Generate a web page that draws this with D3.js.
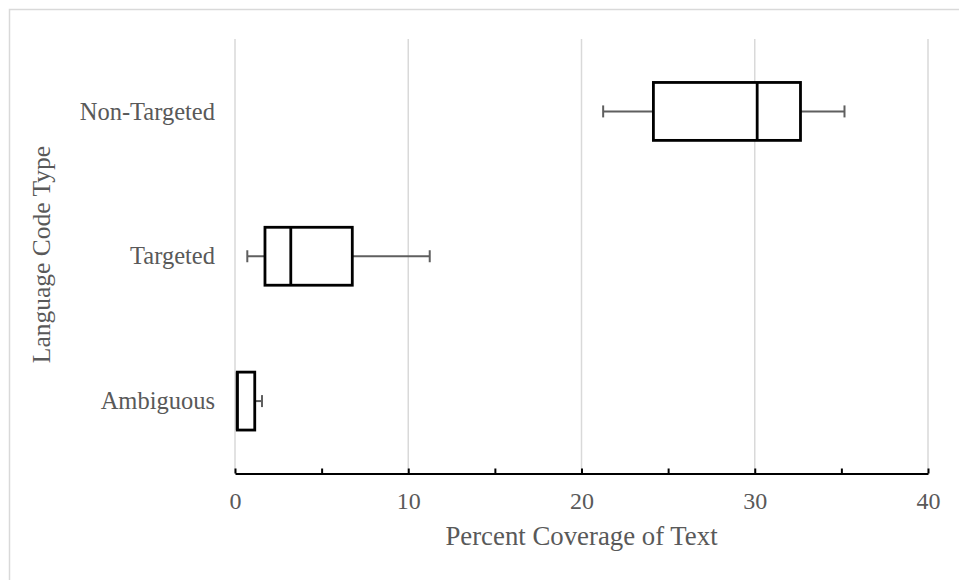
<!DOCTYPE html>
<html>
<head>
<meta charset="utf-8">
<script src="https://cdn.jsdelivr.net/npm/d3@7"></script>
<style>
  body { margin: 0; background: #fff; }
  text { font-family: "Liberation Serif", "Times New Roman", serif; fill: #595959; }
</style>
</head>
<body>
<script>
// box plot values
var categories = ["Non-Targeted", "Targeted", "Ambiguous"];
var mins    = [21.25, 0.71, 0.13];
var q1s     = [24.15, 1.73, 0.13];
var medians = [30.14, 3.22, 0.13];
var q3s     = [32.64, 6.77, 1.14];
var maxs    = [35.18, 11.24, 1.56];
var xTicks = [0, 5, 10, 15, 20, 25, 30, 35, 40];
var gridTicks = [0, 10, 20, 30, 40];

var w = 959, h = 580;

var svg = d3.select("body").append("svg")
    .attr("width", w)
    .attr("height", h);

// outer chart border (cut off at right/bottom)
svg.append("rect")
    .attr("x", 9.5).attr("y", 9.5)
    .attr("width", 1000).attr("height", 1000)
    .attr("fill", "none")
    .attr("stroke", "#d9d9d9")
    .attr("stroke-width", 1.5);

var x = d3.scaleLinear().domain([0, 40]).range([235, 928]);
var y = d3.scaleBand().domain(categories).range([39, 473.5]);

var rows = categories.map(function (c, i) {
    return { cat: c, min: mins[i], q1: q1s[i], med: medians[i], q3: q3s[i], max: maxs[i] };
});

// gridlines
svg.append("g").selectAll("line")
    .data(gridTicks)
    .enter().append("line")
    .attr("x1", function (d) { return x(d); })
    .attr("x2", function (d) { return x(d); })
    .attr("y1", 39).attr("y2", 473.5)
    .attr("stroke", "#d9d9d9")
    .attr("stroke-width", 1.5);

// x axis
var xAxis = d3.axisBottom(x)
    .tickValues(xTicks)
    .tickSizeInner(-5)
    .tickSizeOuter(0)
    .tickPadding(18)
    .tickFormat(function (d) { return d % 10 === 0 ? d : ""; });

var gx = svg.append("g")
    .attr("transform", "translate(0,473.5)")
    .call(xAxis);
gx.select(".domain").attr("stroke", "#000").attr("stroke-width", 2);
gx.selectAll(".tick line").attr("stroke", "#000").attr("stroke-width", 2);
gx.selectAll(".tick text")
    .style("font-size", "24px")
    .attr("fill", "#595959")
    .style("font-family", "Liberation Serif, serif");

// category labels
svg.append("g").selectAll("text")
    .data(categories)
    .enter().append("text")
    .attr("x", 215)
    .attr("y", function (d) { return y(d) + y.bandwidth() / 2; })
    .attr("dy", "0.33em")
    .attr("text-anchor", "end")
    .style("font-size", "24.5px")
    .text(function (d) { return d; });

// axis titles
svg.append("text")
    .attr("x", x(20))
    .attr("y", 545)
    .attr("text-anchor", "middle")
    .style("font-size", "26.8px")
    .text("Percent Coverage of Text");

svg.append("text")
    .attr("transform", "translate(50," + 254.5 + ") rotate(-90)")
    .attr("text-anchor", "middle")
    .style("font-size", "25.5px")
    .text("Language Code Type");

// boxes
var boxH = y.bandwidth() * 0.4;
var g = svg.append("g").selectAll("g")
    .data(rows)
    .enter().append("g");

function cy(d) { return y(d.cat) + y.bandwidth() / 2; }

// whiskers
g.append("line")
    .attr("x1", function (d) { return x(d.min); })
    .attr("x2", function (d) { return x(d.q1); })
    .attr("y1", cy).attr("y2", cy)
    .attr("stroke", "#5f5f5f").attr("stroke-width", 2);
g.append("line")
    .attr("x1", function (d) { return x(d.q3); })
    .attr("x2", function (d) { return x(d.max); })
    .attr("y1", cy).attr("y2", cy)
    .attr("stroke", "#5f5f5f").attr("stroke-width", 2);
g.filter(function (d) { return d.min < d.q1; }).append("line")
    .attr("x1", function (d) { return x(d.min); })
    .attr("x2", function (d) { return x(d.min); })
    .attr("y1", function (d) { return cy(d) - 6; })
    .attr("y2", function (d) { return cy(d) + 6; })
    .attr("stroke", "#5f5f5f").attr("stroke-width", 2);
g.append("line")
    .attr("x1", function (d) { return x(d.max); })
    .attr("x2", function (d) { return x(d.max); })
    .attr("y1", function (d) { return cy(d) - 6; })
    .attr("y2", function (d) { return cy(d) + 6; })
    .attr("stroke", "#5f5f5f").attr("stroke-width", 2);

g.append("rect")
    .attr("x", function (d) { return x(d.q1); })
    .attr("y", function (d) { return cy(d) - boxH / 2; })
    .attr("width", function (d) { return x(d.q3) - x(d.q1); })
    .attr("height", boxH)
    .attr("fill", "#fff")
    .attr("stroke", "#000")
    .attr("stroke-width", 2.8);

g.append("line")
    .attr("x1", function (d) { return x(d.med); })
    .attr("x2", function (d) { return x(d.med); })
    .attr("y1", function (d) { return cy(d) - boxH / 2; })
    .attr("y2", function (d) { return cy(d) + boxH / 2; })
    .attr("stroke", "#000")
    .attr("stroke-width", 2.8);
</script>
</body>
</html>
